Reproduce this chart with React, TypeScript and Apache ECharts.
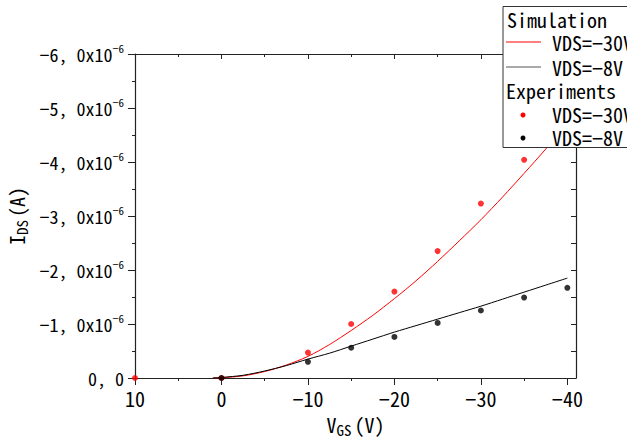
import React, { useEffect, useRef } from "react";
import * as echarts from "echarts";

// Gate voltage (V) for experiments
const expVgs = [10, 0, -10, -15, -20, -25, -30, -35, -40];
// Measured I_DS (A) at VDS = -30 V
const expI30 = [0, 0, -0.47e-6, -1.0e-6, -1.6e-6, -2.35e-6, -3.23e-6, -4.04e-6, -4.9e-6];
// Measured I_DS (A) at VDS = -8 V
const expI8 = [null, 0, -0.3e-6, -0.56e-6, -0.76e-6, -1.02e-6, -1.25e-6, -1.49e-6, -1.67e-6];

// Simulation sampling (V)
const simVgs = [1, 0, -2.5, -5, -7.5, -10, -12.5, -15, -17.5, -20, -22.5, -25, -27.5, -30, -32.5, -35, -37.5, -40];
const simI30 = [0, -0.005e-6, -0.04e-6, -0.12e-6, -0.24e-6, -0.4e-6, -0.62e-6, -0.88e-6, -1.16e-6, -1.47e-6, -1.8e-6, -2.16e-6, -2.54e-6, -2.93e-6, -3.35e-6, -3.79e-6, -4.24e-6, -4.71e-6];
const simI8 = [0, -0.01e-6, -0.05e-6, -0.13e-6, -0.23e-6, -0.35e-6, -0.46e-6, -0.59e-6, -0.72e-6, -0.85e-6, -0.97e-6, -1.09e-6, -1.21e-6, -1.33e-6, -1.46e-6, -1.59e-6, -1.72e-6, -1.85e-6];

const xMajor = [10, 0, -10, -20, -30, -40];
const xMinor = [5, -5, -15, -25, -35];

const FONT = "'Noto Sans Mono CJK JP', 'Noto Sans CJK JP', 'DejaVu Sans Mono', monospace";
const AX = "#222";

export default function App() {
  const ref = useRef<HTMLDivElement>(null);
  useEffect(() => {
    if (!ref.current) return;
    const chart = echarts.init(ref.current, null, { renderer: "svg" });
    const xBase = { type: "value", min: -41, max: 10, inverse: true, splitLine: { show: false } };
    const yBase = { type: "value", min: -6e-6, max: 0, inverse: true, splitLine: { show: false } };
    const minus = (s: string) => s.replace("-", "\u2212");
    const line = (show: boolean) => ({ show, onZero: false, lineStyle: { color: AX, width: 1.2 } });
    const lt = (x: number, y: number, text: string) => ({
      type: "text", x, y, z: 100, zlevel: 1,
      style: { text, fontFamily: FONT, fontSize: 20, fill: "#000", verticalAlign: "middle" },
    });
    chart.setOption({
      animation: false,
      backgroundColor: "#fff",
      grid: { left: 135, right: 51, top: 54, bottom: 62, outerBoundsMode: "none" },
      xAxis: [
        {
          ...xBase,
          position: "bottom",
          axisLine: line(true),
          axisTick: { show: true, customValues: xMajor, length: 7, lineStyle: { color: AX } },
          axisLabel: {
            customValues: xMajor,
            margin: 10,
            fontFamily: FONT,
            fontSize: 20,
            color: "#000",
            formatter: (v: number) => minus(String(v)),
          },
          name: "{v|V}{s|GS}{p|(V)}",
          nameLocation: "middle",
          nameGap: 34,
          nameTextStyle: {
            rich: {
              v: { fontFamily: FONT, fontSize: 20, color: "#000" },
              s: { fontFamily: FONT, fontSize: 15, color: "#000", padding: [10, 0, 0, 0] },
              p: { fontFamily: FONT, fontSize: 20, color: "#000", padding: [0, 0, 0, 3] },
            },
          },
        },
        {
          ...xBase,
          position: "bottom",
          axisLine: line(false),
          axisTick: { show: true, customValues: xMinor, length: 3, lineStyle: { color: AX } },
          axisLabel: { show: false },
        },
        {
          ...xBase,
          position: "top",
          axisLine: line(true),
          axisTick: { show: true, inside: true, customValues: xMajor, length: 5, lineStyle: { color: AX } },
          axisLabel: { show: false },
        },
        {
          ...xBase,
          position: "top",
          axisLine: line(false),
          axisTick: { show: true, inside: true, customValues: xMinor, length: 3, lineStyle: { color: AX } },
          axisLabel: { show: false },
        },
      ],
      yAxis: [
        {
          ...yBase,
          position: "left",
          interval: 1e-6,
          axisLine: line(true),
          axisTick: { show: true, length: 7, lineStyle: { color: AX } },
          minorTick: { show: true, splitNumber: 2, length: 3, lineStyle: { color: AX } },
          axisLabel: {
            margin: 11,
            color: "#000",
            formatter: (v: number) => {
              const n = Math.round(Math.abs(v) / 1e-6);
              if (n === 0) return "{m|0, 0}";
              return "{m|\u2212" + n + ", 0x10}{s|\u22126}";
            },
            rich: {
              m: { fontFamily: FONT, fontSize: 18, color: "#000", lineHeight: 20 },
              s: { fontFamily: FONT, fontSize: 11, color: "#000", padding: [0, 0, 12, 0] },
            },
          },
          name: "{i|I}{s|DS}{p|(A)}",
          nameLocation: "middle",
          nameRotate: 90,
          nameGap: 95,
          nameTextStyle: {
            rich: {
              i: { fontFamily: FONT, fontSize: 20, color: "#000" },
              s: { fontFamily: FONT, fontSize: 15, color: "#000", padding: [10, 0, 0, 0] },
              p: { fontFamily: FONT, fontSize: 20, color: "#000", padding: [0, 0, 0, 3] },
            },
          },
        },
        {
          ...yBase,
          position: "right",
          interval: 0.5e-6,
          axisLine: line(true),
          axisTick: { show: true, inside: true, length: 5, lineStyle: { color: AX } },
          axisLabel: { show: false },
        },
      ],
      series: [
        {
          name: "Sim VDS=-30V",
          type: "line",
          smooth: 0.3,
          showSymbol: false,
          data: simVgs.map((x, i) => [x, simI30[i]]),
          lineStyle: { color: "#ff0000", width: 1 },
          itemStyle: { color: "#ff0000" },
          z: 3,
        },
        {
          name: "Sim VDS=-8V",
          type: "line",
          smooth: 0.3,
          showSymbol: false,
          data: simVgs.map((x, i) => [x, simI8[i]]),
          lineStyle: { color: "#000", width: 1 },
          itemStyle: { color: "#000" },
          z: 3,
        },
        {
          name: "Exp VDS=-30V",
          type: "scatter",
          symbolSize: 6,
          data: expVgs.map((x, i) => [x, expI30[i]]),
          itemStyle: { color: "#ff0000" },
          z: 4,
        },
        {
          name: "Exp VDS=-8V",
          type: "scatter",
          symbolSize: 6,
          data: expVgs.map((x, i) => [x, expI8[i]]).filter((d) => d[1] !== null),
          itemStyle: { color: "#000" },
          z: 5,
        },
      ],
      graphic: [
        { type: "rect", z: 99, zlevel: 1, shape: { x: 503, y: 6.5, width: 140, height: 141 }, style: { fill: "#fff", stroke: "#333", lineWidth: 1 } },
        lt(507, 19, "Simulation"),
        { type: "line", z: 100, zlevel: 1, shape: { x1: 506, y1: 42, x2: 541, y2: 42 }, style: { stroke: "#ff0000", lineWidth: 1 } },
        lt(552, 42, "VDS=\u221230V"),
        { type: "line", z: 100, zlevel: 1, shape: { x1: 506, y1: 67, x2: 541, y2: 67 }, style: { stroke: "#555", lineWidth: 1 } },
        lt(552, 67, "VDS=\u22128V"),
        lt(506, 90, "Experiments"),
        { type: "circle", z: 100, zlevel: 1, shape: { cx: 523, cy: 115, r: 2.5 }, style: { fill: "#ff0000" } },
        lt(552, 114, "VDS=\u221230V"),
        { type: "circle", z: 100, zlevel: 1, shape: { cx: 523, cy: 138, r: 2.5 }, style: { fill: "#000" } },
        lt(552, 137, "VDS=\u22128V"),
      ],
    });
    return () => chart.dispose();
  }, []);
  return <div ref={ref} style={{ position: "fixed", left: 0, top: 0, width: 627, height: 440 }} />;
}
